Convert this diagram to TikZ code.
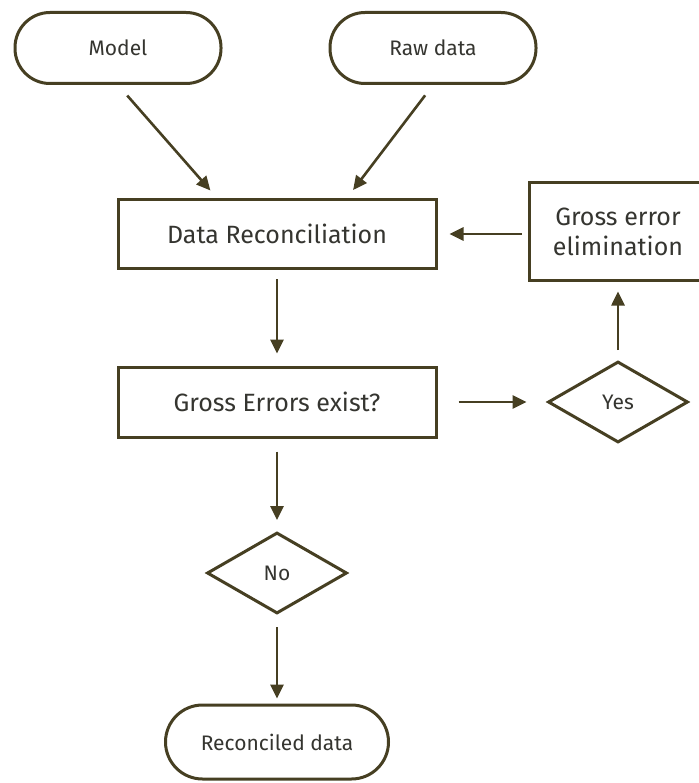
\documentclass[tikz,border=0pt]{standalone}
\usepackage{fontspec}
\setmainfont{Fira Sans}
\usetikzlibrary{arrows.meta,shapes.geometric}
\definecolor{flowline}{HTML}{463F22}
\definecolor{flowtext}{HTML}{353530}
\tikzset{
	pill/.style={draw=flowline, line width=3pt, rounded corners=35pt, minimum width=206pt, minimum height=71pt, text=flowtext, font=\fontsize{21}{25}\selectfont},
	procbox/.style={draw=flowline, line width=3pt, minimum width=318pt, minimum height=69pt, text=flowtext, font=\fontsize{25}{30}\selectfont},
	choice/.style={diamond, draw=flowline, line width=3pt, minimum width=140pt, minimum height=81pt, inner sep=0pt, text=flowtext, font=\fontsize{21}{25}\selectfont},
	flow/.style={draw=flowline, line width=2.6pt, -{Triangle[length=14pt,width=13pt]}, shorten <=11pt, shorten >=11pt},
}

\begin{document}
\begin{tikzpicture}[x=1pt, y=-1pt]
		%%%%% START %%%%%
		\useasboundingbox[fill=white] (0,0) rectangle (698,783);
		
		% inputs
		\node[pill] (model) at (118, 48) {Model};
		\node[pill] (raw) at (433, 48) {Raw data};
		
		% main column
		\node[procbox] (recon) at (277, 234) {Data Reconciliation};
		\node[procbox, minimum height=70pt] (gross) at (277, 402) {Gross Errors exist?};
		\node[choice] (no) at (277, 573) {No};
		\node[pill, minimum width=223pt, minimum height=74pt, rounded corners=37pt] (result) at (277, 742) {Reconciled data};
		
		% loop on the right
		\node[choice] (yes) at (618, 402) {Yes};
		\node[procbox, minimum width=178pt, minimum height=97pt, align=center] (elim) at (618, 231.5) {Gross error\\elimination};
		
		% arrows
		\draw[flow, shorten <=14pt, shorten >=10pt] (model.south) -- ([xshift=-60pt]recon.north);
		\draw[flow, shorten <=13pt, shorten >=10pt] (raw.south) -- ([xshift=70pt]recon.north);
		\draw[flow, shorten <=6pt, shorten >=12pt] (elim.west |- recon) -- (recon.east);
		\draw[flow, shorten <=9pt, shorten >=12pt] (recon.south) -- (gross.north);
		\draw[flow, shorten <=21pt, shorten >=20pt] (gross.east) -- (yes.west);
		\draw[flow, shorten <=10pt, shorten >=10pt] (yes.north) -- (elim.south);
		\draw[flow, shorten <=13pt, shorten >=11pt] (gross.south) -- (no.north);
		\draw[flow, shorten <=12pt, shorten >=5pt] (no.south) -- (result.north);
		
		%%%%% END %%%%%
\end{tikzpicture}
\end{document}
